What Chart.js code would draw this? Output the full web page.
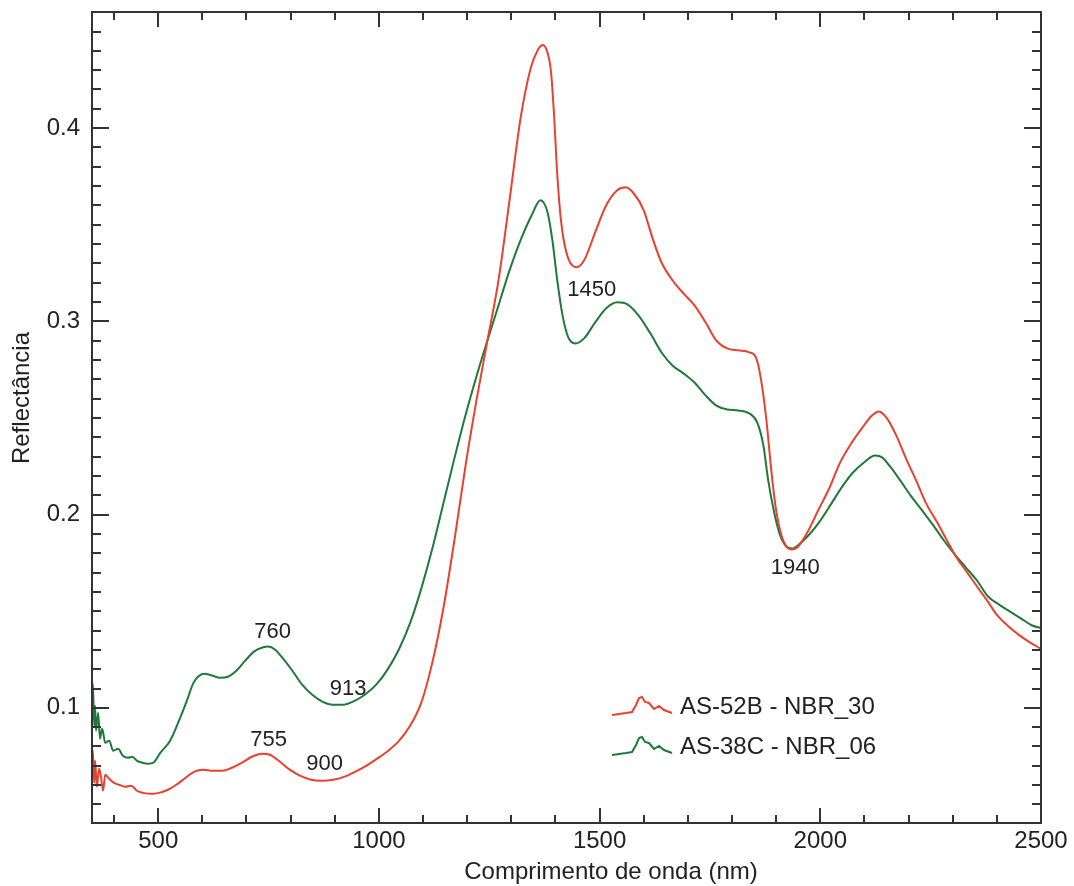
<!DOCTYPE html>
<html lang="pt">
<head>
<meta charset="UTF-8">
<title>Reflectância</title>
<script src="https://cdn.jsdelivr.net/npm/chart.js@4.4.0/dist/chart.umd.min.js"></script>
<style>
  body { margin: 0; background: #fff; }
</style>
</head>
<body>
<canvas id="espectro" width="1074" height="886"></canvas>
<script>
// comprimentos de onda (nm) e reflectancia
const nmRed = [350, 352, 355, 357, 361, 366, 370, 375, 380, 389, 400, 411, 425, 439, 452, 466, 484, 502, 522, 541,
  562, 581, 602, 624, 645, 667, 690, 712, 735, 753, 776, 798, 821, 846, 871, 896, 921, 946, 971, 996,
  1021, 1046, 1071, 1096, 1121, 1146, 1171, 1196, 1221, 1246, 1271, 1296, 1321, 1344, 1360, 1371, 1382, 1390, 1397, 1403,
  1410, 1418, 1430, 1448, 1465, 1490, 1515, 1540, 1559, 1577, 1600, 1620, 1640, 1665, 1690, 1715, 1740, 1764, 1789, 1814,
  1839, 1855, 1866, 1878, 1889, 1900, 1912, 1923, 1936, 1952, 1973, 1995, 2020, 2045, 2070, 2094, 2117, 2133, 2151, 2172,
  2194, 2217, 2240, 2265, 2287, 2310, 2333, 2355, 2378, 2401, 2424, 2449, 2472, 2500];
const reflRed = [0.0700, 0.0778, 0.0612, 0.0726, 0.0592, 0.0685, 0.0649, 0.0571, 0.0654, 0.0633, 0.0612, 0.0602, 0.0592, 0.0597, 0.0571, 0.0560, 0.0555, 0.0560, 0.0576, 0.0602,
  0.0638, 0.0669, 0.0680, 0.0674, 0.0674, 0.0690, 0.0716, 0.0747, 0.0763, 0.0757, 0.0721, 0.0680, 0.0649, 0.0628, 0.0623, 0.0628, 0.0643, 0.0669, 0.0700, 0.0737,
  0.0778, 0.0830, 0.0908, 0.1027, 0.1234, 0.1514, 0.1866, 0.2249, 0.2591, 0.2902, 0.3213, 0.3627, 0.4052, 0.4311, 0.4404, 0.4430, 0.4390, 0.4290, 0.4060, 0.3800,
  0.3580, 0.3430, 0.3320, 0.3280, 0.3316, 0.3461, 0.3601, 0.3679, 0.3694, 0.3663, 0.3575, 0.3430, 0.3306, 0.3213, 0.3145, 0.3083, 0.2995, 0.2902, 0.2860, 0.2850,
  0.2840, 0.2809, 0.2695, 0.2487, 0.2228, 0.2021, 0.1892, 0.1835, 0.1819, 0.1840, 0.1918, 0.2021, 0.2135, 0.2270, 0.2368, 0.2446, 0.2513, 0.2534, 0.2498, 0.2410,
  0.2291, 0.2177, 0.2057, 0.1959, 0.1866, 0.1773, 0.1700, 0.1628, 0.1555, 0.1478, 0.1426, 0.1379, 0.1343, 0.1305];

const nmGreen = [350, 352, 355, 357, 359, 364, 368, 373, 380, 389, 398, 409, 420, 432, 441, 452, 464, 477, 489, 505,
  527, 549, 565, 579, 590, 604, 622, 640, 658, 677, 697, 717, 736, 749, 765, 783, 804, 826, 849, 872,
  896, 919, 946, 971, 996, 1021, 1046, 1071, 1096, 1121, 1146, 1171, 1196, 1221, 1246, 1271, 1296, 1321, 1346, 1366,
  1382, 1393, 1404, 1416, 1429, 1445, 1465, 1490, 1515, 1540, 1563, 1588, 1615, 1640, 1665, 1690, 1715, 1740, 1764, 1789,
  1814, 1839, 1857, 1871, 1882, 1896, 1909, 1923, 1936, 1954, 1977, 2000, 2025, 2050, 2074, 2099, 2124, 2140, 2158, 2181,
  2206, 2231, 2256, 2280, 2305, 2330, 2355, 2380, 2405, 2430, 2455, 2480, 2500];
const reflGreen = [0.1037, 0.1125, 0.0908, 0.1011, 0.0882, 0.0975, 0.0840, 0.0892, 0.0819, 0.0830, 0.0778, 0.0788, 0.0752, 0.0742, 0.0747, 0.0726, 0.0716, 0.0711, 0.0716, 0.0768,
  0.0830, 0.0944, 0.1037, 0.1125, 0.1161, 0.1177, 0.1167, 0.1156, 0.1161, 0.1192, 0.1244, 0.1291, 0.1312, 0.1317, 0.1301, 0.1255, 0.1192, 0.1120, 0.1068, 0.1032,
  0.1016, 0.1016, 0.1037, 0.1073, 0.1125, 0.1203, 0.1306, 0.1441, 0.1617, 0.1824, 0.2057, 0.2291, 0.2513, 0.2715, 0.2902, 0.3083, 0.3264, 0.3420, 0.3549, 0.3627,
  0.3565, 0.3420, 0.3213, 0.3031, 0.2917, 0.2886, 0.2912, 0.2995, 0.3068, 0.3099, 0.3088, 0.3031, 0.2938, 0.2840, 0.2772, 0.2731, 0.2684, 0.2617, 0.2565, 0.2544,
  0.2539, 0.2524, 0.2477, 0.2358, 0.2177, 0.2006, 0.1892, 0.1835, 0.1824, 0.1850, 0.1902, 0.1969, 0.2057, 0.2146, 0.2218, 0.2270, 0.2306, 0.2296, 0.2249, 0.2177,
  0.2094, 0.2021, 0.1944, 0.1866, 0.1793, 0.1726, 0.1659, 0.1576, 0.1534, 0.1498, 0.1462, 0.1426, 0.1413];

const xMajor = [500, 1000, 1500, 2000, 2500];
const xMinor = [400, 600, 700, 800, 900, 1100, 1200, 1300, 1400, 1600, 1700, 1800, 1900, 2100, 2200, 2300, 2400];
const yMajor = [0.1, 0.2, 0.3, 0.4];
const yMinor = [0.05, 0.06, 0.07, 0.08, 0.09, 0.11, 0.12, 0.13, 0.14, 0.15, 0.16, 0.17, 0.18, 0.19,
  0.21, 0.22, 0.23, 0.24, 0.25, 0.26, 0.27, 0.28, 0.29, 0.31, 0.32, 0.33, 0.34, 0.35, 0.36, 0.37, 0.38, 0.39,
  0.41, 0.42, 0.43, 0.44, 0.45];

// rotulos das bandas: texto, comprimento de onda, reflectancia
const bandText = ['760', '913', '755', '900', '1450', '1940'];
const bandNm = [759, 930, 750, 877, 1482, 1943];
const bandRefl = [0.1393, 0.1098, 0.0834, 0.0710, 0.3162, 0.1724];

const RED = '#e8412f';
const GREEN = '#1f7a3a';
const INK = '#222';
const FONT = "'Liberation Sans', Arial, sans-serif";

function pairs(xs, ys) {
  return xs.map((x, i) => ({ x: x, y: ys[i] }));
}

// pequeno espectro usado como amostra na legenda
const squiggle = [[0,0],[7,-1],[14,-2],[20,-3],[24,-10],[27,-17],[30,-18],[33,-13],[37,-12],[42,-6],[47,-9],[52,-5],[60,-2]];

const molduraPlugin = {
  id: 'moldura',
  afterDatasetsDraw(chart) {
    const ctx = chart.ctx;
    const a = chart.chartArea;
    const sx = chart.scales.x, sy = chart.scales.y;
    ctx.save();
    ctx.strokeStyle = '#333';
    ctx.lineWidth = 2;
    ctx.strokeRect(a.left, a.top, a.right - a.left, a.bottom - a.top);

    ctx.beginPath();
    function xt(list, len) {
      list.forEach(v => {
        const p = Math.round(sx.getPixelForValue(v));
        ctx.moveTo(p, a.bottom); ctx.lineTo(p, a.bottom - len);
        ctx.moveTo(p, a.top); ctx.lineTo(p, a.top + len);
      });
    }
    function yt(list, len) {
      list.forEach(v => {
        const p = Math.round(sy.getPixelForValue(v));
        if (p < a.top + 2 || p > a.bottom - 2) return;
        ctx.moveTo(a.left, p); ctx.lineTo(a.left + len, p);
        ctx.moveTo(a.right, p); ctx.lineTo(a.right - len, p);
      });
    }
    xt(xMajor, 15); xt(xMinor, 8);
    yt(yMajor, 17); yt(yMinor, 9);
    ctx.stroke();

    // rotulos das bandas
    ctx.fillStyle = INK;
    ctx.font = '22px ' + FONT;
    ctx.textAlign = 'center';
    ctx.textBaseline = 'middle';
    bandText.forEach((t, i) => {
      ctx.fillText(t, sx.getPixelForValue(bandNm[i]), sy.getPixelForValue(bandRefl[i]));
    });

    // legenda
    ctx.font = '24px ' + FONT;
    ctx.textAlign = 'left';
    chart.data.datasets.forEach((ds, i) => {
      const x0 = 612, y0 = 715 + i * 40;
      ctx.strokeStyle = ds.borderColor;
      ctx.lineWidth = 2;
      ctx.beginPath();
      squiggle.forEach((p, k) => {
        if (k === 0) ctx.moveTo(x0 + p[0], y0 + p[1]); else ctx.lineTo(x0 + p[0], y0 + p[1]);
      });
      ctx.stroke();
      ctx.fillStyle = INK;
      ctx.fillText(ds.label, 680, y0 - 8);
    });

    // titulos dos eixos
    ctx.font = '24px ' + FONT;
    ctx.textAlign = 'center';
    ctx.fillText('Comprimento de onda (nm)', 611, 872);
    ctx.translate(22, 398);
    ctx.rotate(-Math.PI / 2);
    ctx.fillText('Reflectância', 0, 0);
    ctx.restore();
  }
};

new Chart(document.getElementById('espectro'), {
  type: 'line',
  data: {
    datasets: [
      { label: 'AS-52B - NBR_30', data: pairs(nmRed, reflRed), borderColor: RED, borderWidth: 2, pointRadius: 0, cubicInterpolationMode: 'monotone' },
      { label: 'AS-38C - NBR_06', data: pairs(nmGreen, reflGreen), borderColor: GREEN, borderWidth: 2, pointRadius: 0, cubicInterpolationMode: 'monotone' }
    ]
  },
  options: {
    responsive: false,
    animation: false,
    layout: { padding: { left: 0, right: 33, top: 12, bottom: 0 } },
    plugins: { legend: { display: false }, tooltip: { enabled: false } },
    scales: {
      x: {
        type: 'linear', min: 350, max: 2500,
        grid: { display: false, drawTicks: false },
        border: { display: false },
        afterBuildTicks: s => { s.ticks = xMajor.map(v => ({ value: v })); },
        afterFit: s => { s.height = 63; s.paddingLeft = 0; s.paddingRight = 0; },
        ticks: { color: INK, font: { family: FONT, size: 24 }, padding: 4, maxRotation: 0, callback: v => String(v) }
      },
      y: {
        min: 0.0404, max: 0.4601,
        grid: { display: false, drawTicks: false },
        border: { display: false },
        afterBuildTicks: s => { s.ticks = yMajor.map(v => ({ value: v })); },
        afterFit: s => { s.width = 92; s.paddingTop = 0; s.paddingBottom = 0; },
        ticks: { color: INK, font: { family: FONT, size: 24 }, padding: 12, callback: v => v.toFixed(1) }
      }
    }
  },
  plugins: [molduraPlugin]
});
</script>
</body>
</html>
